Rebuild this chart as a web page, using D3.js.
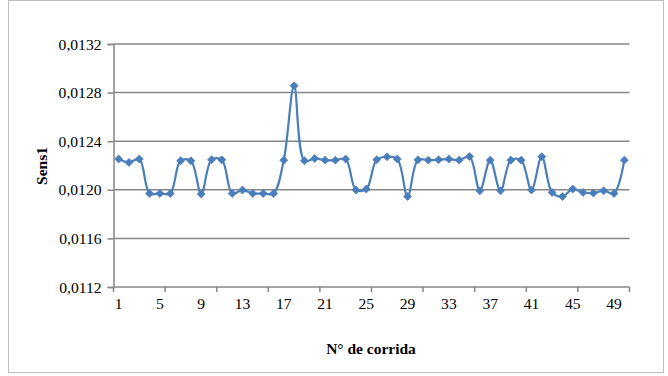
<!DOCTYPE html>
<html>
<head>
<meta charset="utf-8">
<script src="https://cdn.jsdelivr.net/npm/d3@7"></script>
<style>
  body { margin: 0; background: #fff; }
  svg { display: block; }
</style>
</head>
<body>
<script>
const runs = d3.range(1, 51);
const sens1 = [
  0.012253, 0.012225, 0.012253, 0.011970, 0.011970, 0.011970, 0.012239, 0.012239, 0.011965, 0.012247,
  0.012247, 0.011970, 0.011998, 0.011970, 0.011970, 0.011970, 0.012244, 0.012856, 0.012239, 0.012258,
  0.012244, 0.012244, 0.012253, 0.011998, 0.012006, 0.012247, 0.012272, 0.012253, 0.011945, 0.012247,
  0.012244, 0.012247, 0.012253, 0.012244, 0.012274, 0.011992, 0.012244, 0.011992, 0.012244, 0.012244,
  0.011998, 0.012272, 0.011978, 0.011945, 0.012006, 0.011978, 0.011973, 0.011992, 0.011970, 0.012244
];
const yTicks = [0.0112, 0.0116, 0.0120, 0.0124, 0.0128, 0.0132];
const xLabels = [1, 5, 9, 13, 17, 21, 25, 29, 33, 37, 41, 45, 49];
const yTitle = "Sens1";
const xTitle = "N° de corrida";

const FONT = "Liberation Serif, DejaVu Serif";
const W = 668, H = 376;
const m = { left: 113.5, right: 668 - 629.5, top: 44, bottom: 376 - 287 };

const svg = d3.select("body").append("svg").attr("width", W).attr("height", H);

svg.append("rect").attr("x", 8.5).attr("y", 0.5).attr("width", 655).attr("height", 372)
  .attr("fill", "#fff").attr("stroke", "#bfbfbf").attr("stroke-width", 1);

const x = d3.scaleBand().domain(runs).range([m.left, W - m.right]).padding(0);
const y = d3.scaleLinear().domain([0.0112, 0.0132]).range([H - m.bottom, m.top]);

const fmt = v => d3.format(".4f")(v).replace(".", ",");

svg.append("g").selectAll("line").data(yTicks.slice(1)).join("line")
  .attr("x1", m.left).attr("x2", W - m.right)
  .attr("y1", d => y(d)).attr("y2", d => y(d))
  .attr("stroke", "#868686").attr("stroke-width", 1.5);

const yAxis = svg.append("g").attr("transform", `translate(${m.left},0)`)
  .call(d3.axisLeft(y).tickValues(yTicks).tickFormat(fmt).tickSize(6).tickPadding(6));
yAxis.attr("font-family", FONT).attr("font-size", 15.6);
yAxis.select(".domain").attr("stroke", "#868686").attr("stroke-width", 1.5);
yAxis.selectAll(".tick line").attr("stroke", "#868686").attr("stroke-width", 1.5);
yAxis.selectAll("text").attr("fill", "#000");

const xg = svg.append("g").attr("transform", `translate(0,${H - m.bottom})`)
  .attr("font-family", FONT).attr("font-size", 15.6);
xg.append("line").attr("x1", m.left).attr("x2", W - m.right).attr("y1", 0).attr("y2", 0)
  .attr("stroke", "#868686").attr("stroke-width", 1.5);
const tickRuns = runs.filter(r => (r - 1) % 5 === 0);
xg.selectAll("line.t").data(tickRuns.concat([null])).join("line").attr("class", "t")
  .attr("x1", d => d === null ? W - m.right : x(d)).attr("x2", d => d === null ? W - m.right : x(d))
  .attr("y1", 0).attr("y2", 5).attr("stroke", "#868686").attr("stroke-width", 1.5);
xg.selectAll("text").data(xLabels).join("text")
  .attr("x", d => x(d) + x.bandwidth() / 2).attr("y", 22)
  .attr("text-anchor", "middle").text(d => d);

const line = d3.line().x((d, i) => x(runs[i]) + x.bandwidth() / 2).y(d => y(d))
  .curve(d3.curveCatmullRom.alpha(0.5));
svg.append("path").datum(sens1).attr("d", line)
  .attr("fill", "none").attr("stroke", "#4A7EBB").attr("stroke-width", 2.2);

svg.append("g").selectAll("path").data(sens1).join("path")
  .attr("transform", (d, i) => `translate(${x(runs[i]) + x.bandwidth() / 2},${y(d)})`)
  .attr("d", d3.symbol().type(d3.symbolDiamond2).size(40))
  .attr("fill", "#4A7EBB").attr("stroke", "#4A7EBB").attr("stroke-width", 0.8);

svg.append("text").attr("transform", "translate(47,166) rotate(-90)")
  .attr("text-anchor", "middle").attr("font-family", FONT).attr("font-weight", "bold")
  .attr("font-size", 15.5).text(yTitle);
svg.append("text").attr("x", 371).attr("y", 354)
  .attr("text-anchor", "middle").attr("font-family", FONT).attr("font-weight", "bold")
  .attr("font-size", 15.5).text(xTitle);
</script>
</body>
</html>
